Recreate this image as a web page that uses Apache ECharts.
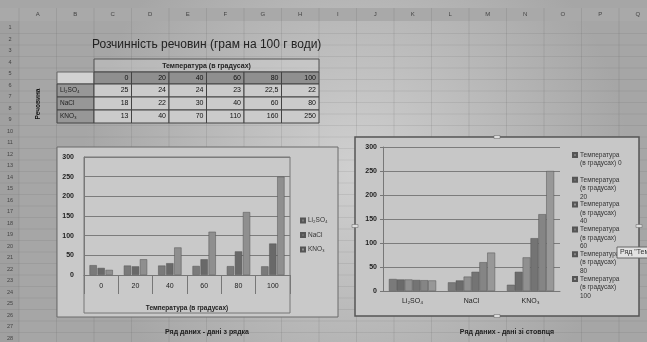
<!DOCTYPE html>
<html>
<head>
<meta charset="utf-8">
<title>Розчинність речовин</title>
<script src="https://cdn.jsdelivr.net/npm/echarts@6/dist/echarts.min.js"></script>
<style>
  html, body { margin: 0; padding: 0; background: #c2c2c2; }
  #chart { width: 647px; height: 342px; }
</style>
</head>
<body>
<div id="chart"></div>
<script>
// дані таблиці
const temps = ['0', '20', '40', '60', '80', '100']
const substances = ['Li₂SO₄', 'NaCl', 'KNO₃']
const li2so4 = [25, 24, 24, 23, 22.5, 22]
const nacl = [18, 22, 30, 40, 60, 80]
const kno3 = [13, 40, 70, 110, 160, 250]
const colLetters = ['A', 'B', 'C', 'D', 'E', 'F', 'G', 'H', 'I', 'J', 'K', 'L', 'M', 'N', 'O', 'P', 'Q']

const tableRows = [li2so4, nacl, kno3]
const font = '"Liberation Sans", Arial, sans-serif'
const colors1 = ['#7a7a7a', '#696969', '#8f8f8f']
const colors2 = ['#7a7a7a', '#6b6b6b', '#909090', '#747474', '#858585', '#989898']

const chart = echarts.init(document.getElementById('chart'))

// аркуш: колонки / рядки
const colW = 37.5
const rowH = 11.5
const g = []
g.push({ type: 'rect', z: -30, shape: { x: 0, y: 8, width: 647, height: 13 }, style: { fill: '#a9a9a9' } })
g.push({ type: 'rect', z: -30, shape: { x: 0, y: 21, width: 19, height: 321 }, style: { fill: 'rgba(150,150,150,0.35)' } })
for (let k = 0; k <= 17; k++) {
  const x = 19 + k * colW
  g.push({ type: 'line', z: -25, shape: { x1: x, y1: 8, x2: x, y2: 342 }, style: { stroke: 'rgba(90,90,90,0.15)', lineWidth: 1 } })
}
colLetters.forEach((c, k) => {
  g.push({ type: 'text', z: -20, style: { text: c, x: 19 + k * colW + colW / 2, y: 14.5, align: 'center', verticalAlign: 'middle', textAlign: 'center', textVerticalAlign: 'middle', fontSize: 6, fontFamily: font, fill: '#444' } })
})
for (let r = 0; r < 28; r++) {
  const y = 22 + (r + 1) * rowH
  g.push({ type: 'line', z: -25, shape: { x1: 0, y1: y, x2: 647, y2: y }, style: { stroke: 'rgba(90,90,90,0.13)', lineWidth: 1 } })
  g.push({ type: 'text', z: -20, style: { text: String(r + 1), x: 10, y: y - rowH / 2, align: 'center', verticalAlign: 'middle', textAlign: 'center', textVerticalAlign: 'middle', fontSize: 5.5, fontFamily: font, fill: '#444' } })
}

// заголовок і таблиця
g.push({ type: 'text', z: 5, style: { text: 'Розчинність речовин (грам на 100 г води)', x: 92, y: 45, verticalAlign: 'middle', textVerticalAlign: 'middle', fontSize: 12, fontFamily: font, fill: '#222' } })
const tX = 94
const tRowY = [72, 84, 97, 110, 123]
g.push({ type: 'rect', z: 4, shape: { x: tX, y: 59, width: colW * 6, height: 13 }, style: { fill: 'rgba(220,220,220,0.3)', stroke: '#555', lineWidth: 1 } })
g.push({ type: 'text', z: 5, style: { text: 'Температура (в градусах)', x: tX + colW * 3, y: 66, align: 'center', verticalAlign: 'middle', textAlign: 'center', textVerticalAlign: 'middle', fontSize: 7, fontWeight: 'bold', fontFamily: font, fill: '#222' } })
g.push({ type: 'rect', z: 4, shape: { x: 57, y: 72, width: tX - 57, height: 12 }, style: { fill: '#d2d2d2', stroke: '#666', lineWidth: 1 } })
temps.forEach((t, c) => {
  g.push({ type: 'rect', z: 4, shape: { x: tX + c * colW, y: 72, width: colW, height: 12 }, style: { fill: '#8f8f8f', stroke: '#444', lineWidth: 1 } })
  g.push({ type: 'text', z: 5, style: { text: t, x: tX + (c + 1) * colW - 3, y: 78, align: 'right', verticalAlign: 'middle', textAlign: 'right', textVerticalAlign: 'middle', fontSize: 7, fontFamily: font, fill: '#111' } })
})
tableRows.forEach((vals, r) => {
  const y0 = tRowY[r + 1]
  const h = tRowY[r + 2] - y0
  g.push({ type: 'rect', z: 4, shape: { x: 57, y: y0, width: tX - 57, height: h }, style: { fill: '#979797', stroke: '#444', lineWidth: 1 } })
  g.push({ type: 'text', z: 5, style: { text: substances[r], x: 60, y: y0 + h / 2, verticalAlign: 'middle', textVerticalAlign: 'middle', fontSize: 6.5, fontFamily: font, fill: '#222' } })
  vals.forEach((v, c) => {
    g.push({ type: 'rect', z: 4, shape: { x: tX + c * colW, y: y0, width: colW, height: h }, style: { fill: '#cbcbcb', stroke: '#444', lineWidth: 1 } })
    g.push({ type: 'text', z: 5, style: { text: String(v).replace('.', ','), x: tX + (c + 1) * colW - 3, y: y0 + h / 2, align: 'right', verticalAlign: 'middle', textAlign: 'right', textVerticalAlign: 'middle', fontSize: 7, fontFamily: font, fill: '#111' } })
  })
})
g.push({ type: 'text', z: 5, rotation: Math.PI / 2, x: 38, y: 104, style: { text: 'Речовина', x: 0, y: 0, align: 'center', verticalAlign: 'middle', textAlign: 'center', textVerticalAlign: 'middle', fontSize: 6.5, fontWeight: 'bold', fontFamily: font, fill: '#111' } })

// рамки діаграм
g.push({ type: 'rect', z: -10, shape: { x: 57, y: 147, width: 281, height: 170 }, style: { fill: '#c9c9c9', stroke: '#6a6a6a', lineWidth: 1 } })
g.push({ type: 'rect', z: -5, shape: { x: 84, y: 157, width: 206, height: 156 }, style: { fill: 'none', stroke: '#777', lineWidth: 1 } })
g.push({ type: 'rect', z: -10, shape: { x: 355, y: 137, width: 284, height: 179 }, style: { fill: '#c7c7c7', stroke: '#555', lineWidth: 1.5 } })
;[[497, 137], [355, 226], [497, 316], [639, 226]].forEach(([x, y]) => {
  g.push({ type: 'rect', z: 6, shape: { x: x - 3, y: y - 1.5, width: 6, height: 3 }, style: { fill: '#ddd', stroke: '#666', lineWidth: 0.5 } })
})
// підказка Excel
g.push({ type: 'rect', z: 20, shape: { x: 617, y: 247, width: 34, height: 11 }, style: { fill: '#e2e2e2', stroke: '#666', lineWidth: 1 } })
g.push({ type: 'text', z: 21, style: { text: 'Ряд "Температура', x: 620, y: 252.5, verticalAlign: 'middle', textVerticalAlign: 'middle', fontSize: 7, fontFamily: font, fill: '#333' } })
// підписи під діаграмами
g.push({ type: 'text', z: 5, style: { text: 'Ряд даних - дані з рядка', x: 207, y: 332, align: 'center', verticalAlign: 'middle', textAlign: 'center', textVerticalAlign: 'middle', fontSize: 7, fontWeight: 'bold', fontFamily: font, fill: '#222' } })
g.push({ type: 'text', z: 5, style: { text: 'Ряд даних - дані зі стовпця', x: 507, y: 332, align: 'center', verticalAlign: 'middle', textAlign: 'center', textVerticalAlign: 'middle', fontSize: 7, fontWeight: 'bold', fontFamily: font, fill: '#222' } })

// легенда другої діаграми: кожен пункт окремо, маркер біля першого рядка
const names2 = temps.map((t) => 'Температура (в градусах) ' + t)
const legend2 = names2.map((name, i) => {
  const t = temps[i]
  const tail = '(в градусах) ' + t
  const lines = tail.length <= 14 ? ['Температура', tail] : ['Температура', '(в градусах)', t]
  const pad = lines.length - 1
  const total = pad + lines.length
  return {
    data: [name],
    orient: 'vertical',
    left: 572,
    top: 155 + i * 24.8 - (total * 8.5) / 2,
    padding: 0,
    icon: 'rect',
    itemWidth: 4,
    itemHeight: 4,
    itemGap: 0,
    formatter: () => new Array(pad).fill('').concat(lines).join('\n'),
    textStyle: { fontSize: 6.5, lineHeight: 8.5, fontFamily: font, color: '#333', padding: [0, 0, 0, -2] }
  }
})

const seriesByRow = substances.map((s, r) => ({
  name: s,
  type: 'bar',
  xAxisIndex: 0,
  yAxisIndex: 0,
  data: tableRows[r],
  barGap: '10%',
  barCategoryGap: '32%',
  itemStyle: { color: colors1[r], borderColor: '#555', borderWidth: 0.5 }
}))
const seriesByCol = names2.map((name, c) => ({
  name: name,
  type: 'bar',
  xAxisIndex: 1,
  yAxisIndex: 1,
  data: tableRows.map((vals) => vals[c]),
  barGap: '0%',
  barCategoryGap: '20%',
  itemStyle: { color: colors2[c], borderColor: '#555', borderWidth: 0.5 }
}))

const axisText = { fontSize: 7, fontFamily: font, color: '#222' }

const option = {
  animation: false,
  backgroundColor: {
    type: 'radial', x: 0.55, y: 0.5, r: 0.8,
    colorStops: [{ offset: 0, color: '#d0d0d0' }, { offset: 1, color: '#a6a6a6' }]
  },
  graphic: { elements: g },
  grid: [
    { left: 84, top: 157, width: 206, height: 118 },
    { left: 383, top: 147, width: 177, height: 144 }
  ],
  legend: [
    {
      data: substances,
      orient: 'vertical',
      left: 300,
      top: 217,
      padding: 0,
      icon: 'rect',
      itemWidth: 4,
      itemHeight: 4,
      itemGap: 7.5,
      textStyle: { fontSize: 6.5, fontFamily: font, color: '#333', padding: [0, 0, 0, -2] }
    }
  ].concat(legend2),
  xAxis: [
    {
      type: 'category',
      gridIndex: 0,
      data: temps,
      name: 'Температура (в градусах)',
      nameLocation: 'middle',
      nameGap: 30,
      nameTextStyle: { fontSize: 6.5, fontWeight: 'bold', fontFamily: font, color: '#222' },
      axisLine: { lineStyle: { color: '#777' } },
      axisTick: { show: true, length: 19, interval: 0, lineStyle: { color: '#777' } },
      axisLabel: Object.assign({ margin: 8, interval: 0 }, axisText)
    },
    {
      type: 'category',
      gridIndex: 1,
      data: substances,
      axisLine: { lineStyle: { color: '#777' } },
      axisTick: { show: false },
      axisLabel: Object.assign({ margin: 7, interval: 0 }, axisText)
    }
  ],
  yAxis: [
    {
      type: 'value',
      gridIndex: 0,
      min: 0,
      max: 300,
      interval: 50,
      axisLine: { show: true, lineStyle: { color: '#777' } },
      axisTick: { show: false },
      splitLine: { lineStyle: { color: '#7c7c7c' } },
      axisLabel: Object.assign({ margin: 10, fontWeight: 'bold' }, axisText)
    },
    {
      type: 'value',
      gridIndex: 1,
      min: 0,
      max: 300,
      interval: 50,
      axisLine: { show: true, lineStyle: { color: '#777' } },
      axisTick: { show: true, length: 3, lineStyle: { color: '#777' } },
      splitLine: { lineStyle: { color: '#7c7c7c' } },
      axisLabel: Object.assign({ margin: 6, fontWeight: 'bold' }, axisText)
    }
  ],
  series: seriesByRow.concat(seriesByCol)
}

chart.setOption(option)
</script>
</body>
</html>
